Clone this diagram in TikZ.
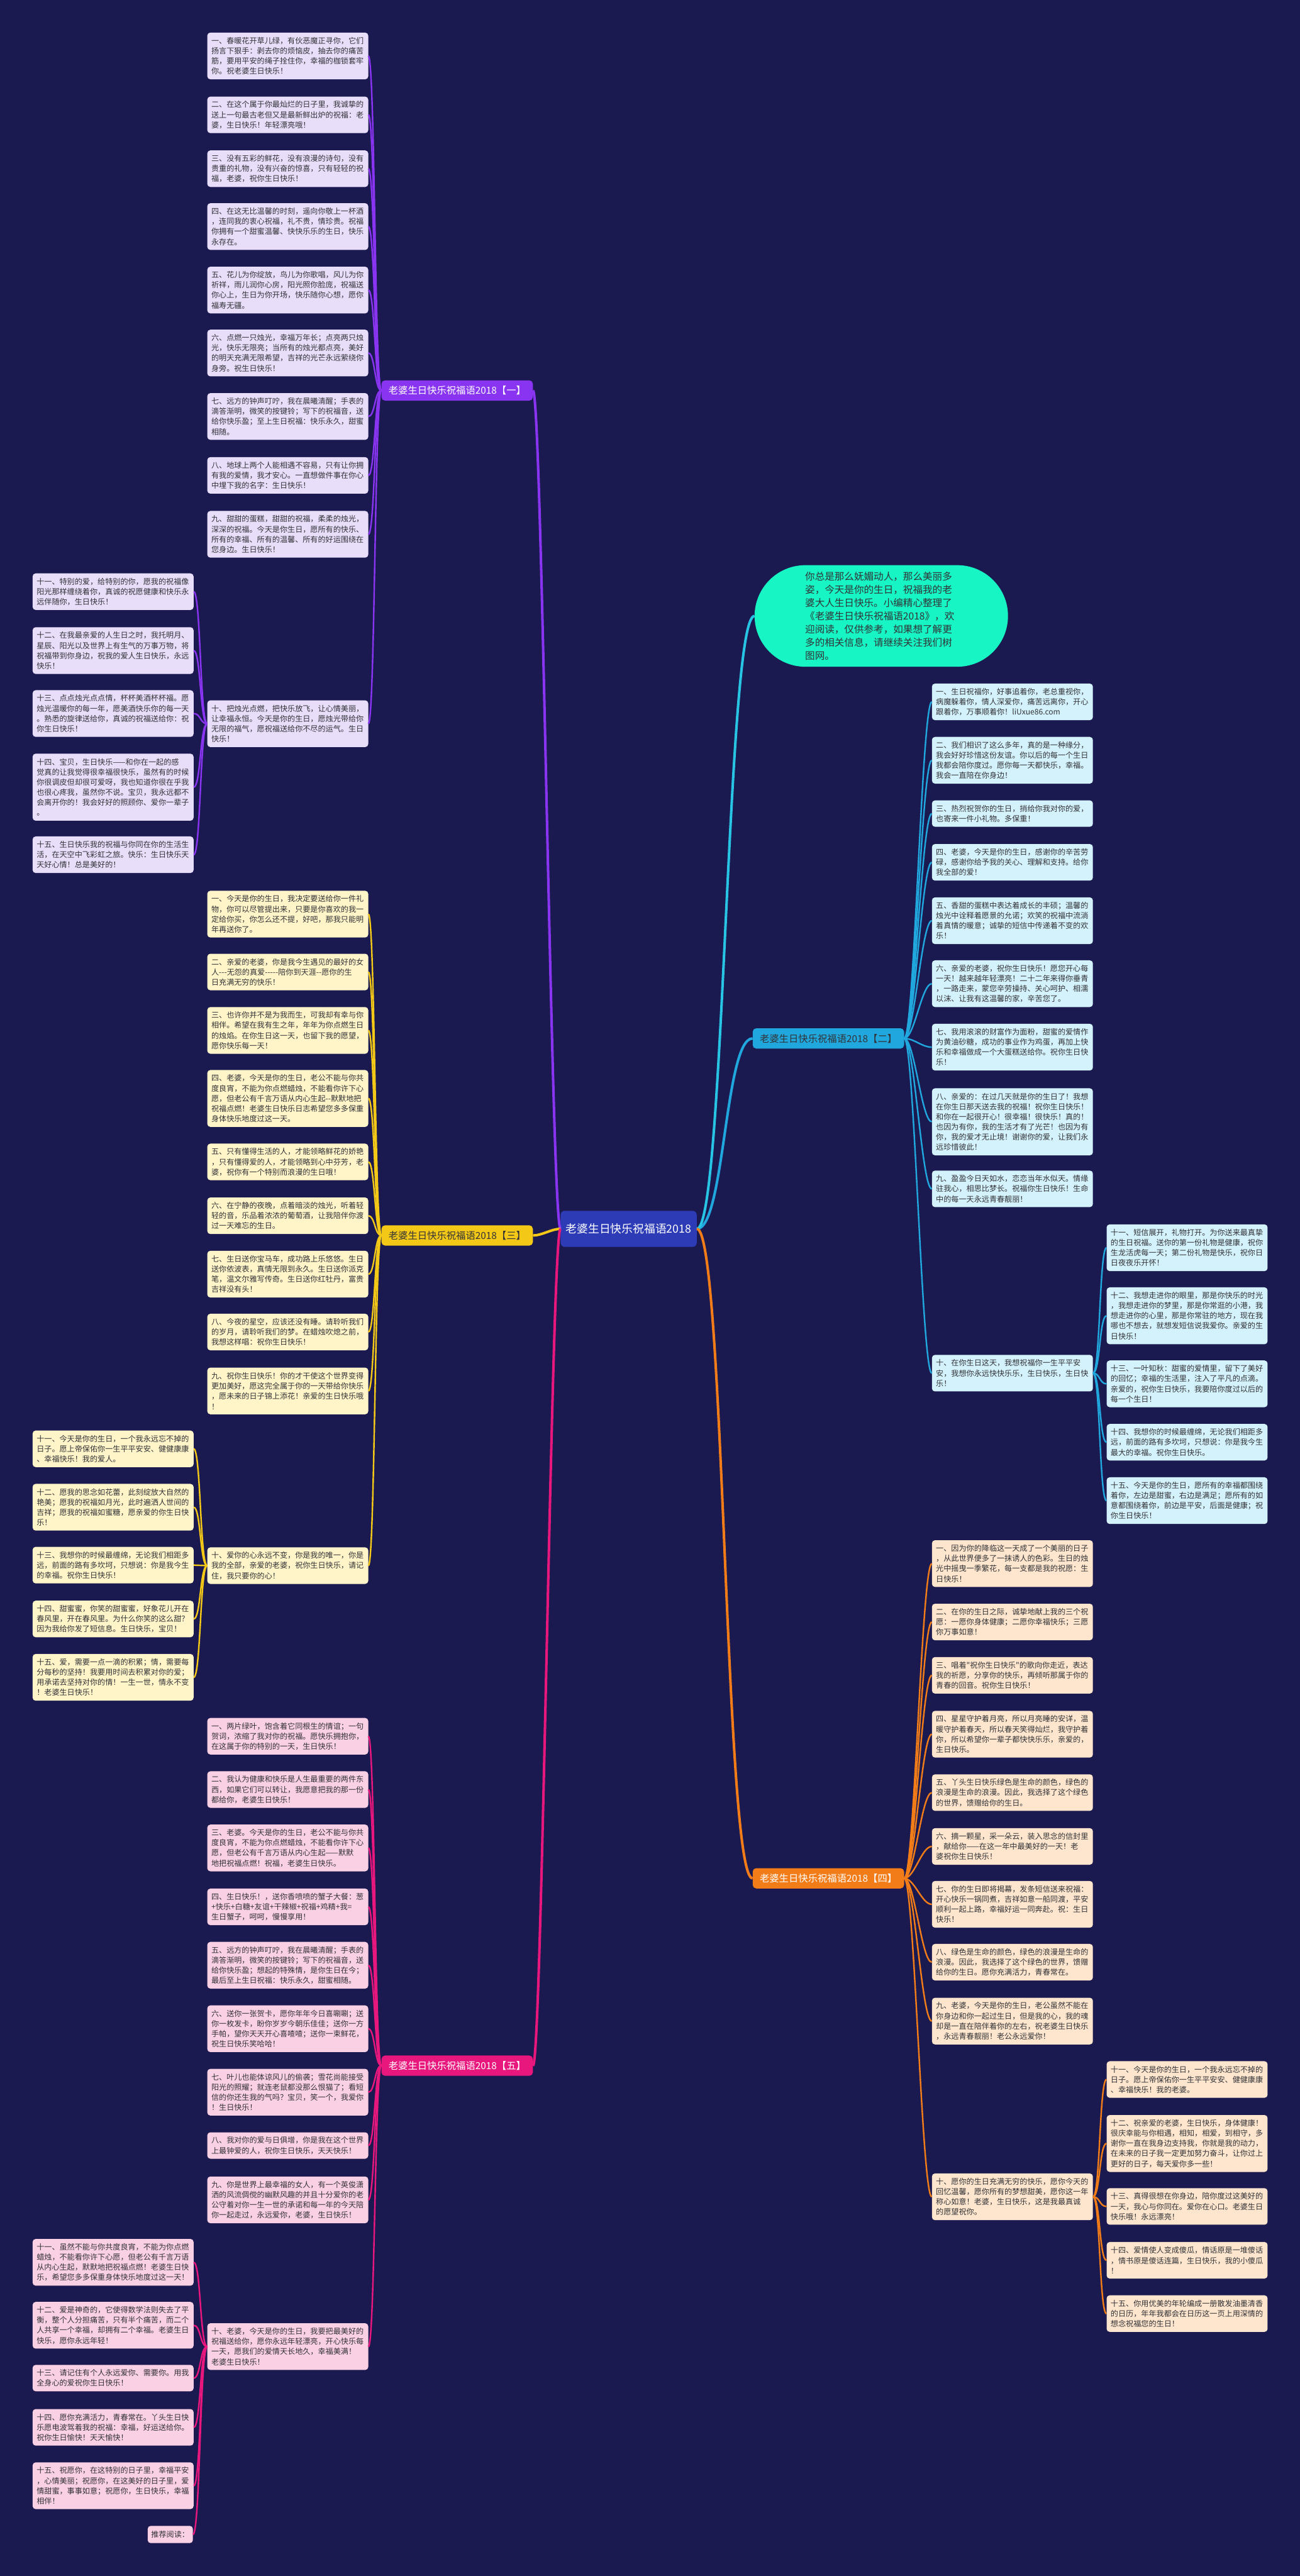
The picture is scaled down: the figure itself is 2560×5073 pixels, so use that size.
\documentclass[tikz,border=0pt]{standalone}
\usepackage{fontspec}
\setmainfont{Noto Sans CJK SC}[Ligatures=TeXOff]
\definecolor{bg}{RGB}{27,26,80}
\definecolor{txt}{RGB}{50,50,55}
\definecolor{sP}{RGB}{136,52,240}
\definecolor{fP}{RGB}{232,222,250}
\definecolor{sY}{RGB}{244,200,22}
\definecolor{fY}{RGB}{255,245,200}
\definecolor{sK}{RGB}{232,23,125}
\definecolor{fK}{RGB}{250,208,228}
\definecolor{sC}{RGB}{32,168,222}
\definecolor{fC}{RGB}{212,242,251}
\definecolor{sO}{RGB}{242,124,24}
\definecolor{fO}{RGB}{253,230,205}
\definecolor{sG}{RGB}{22,245,195}
\definecolor{sI}{RGB}{40,196,228}
\definecolor{cen}{RGB}{45,60,182}
\tikzset{
  base/.style={font=\fontsize{15}{20}\selectfont, text=txt},
  leaf/.style={base, rounded corners=6pt, text width=301pt, inner xsep=8pt, inner ysep=0pt, align=left, minimum width=317pt, anchor=north west},
  lP/.style={leaf, fill=fP}, lY/.style={leaf, fill=fY}, lK/.style={leaf, fill=fK},
  lC/.style={leaf, fill=fC}, lO/.style={leaf, fill=fO},
  cP/.style={draw=sP, line width=3pt}, cY/.style={draw=sY, line width=3pt},
  cK/.style={draw=sK, line width=3pt}, cC/.style={draw=sC, line width=3pt},
  cO/.style={draw=sO, line width=3pt},
  mainline/.style={line width=5pt},
  blabel/.style={rounded corners=7pt, font=\fontsize{19}{24}\selectfont, inner xsep=14pt, inner ysep=0pt, minimum height=40pt},
}
\newcommand\mleaf[6]{\node[#1, minimum height={20*#5+12}] (#2) at (#3,#4) {#6};}
\newcommand\conL[4]{\draw[#1] (#2.west) .. controls +(-#4,0) and +(#4,0) .. (#3.east);}
\newcommand\conR[4]{\draw[#1] (#2.east) .. controls +(#4,0) and +(-#4,0) .. (#3.west);}
\begin{document}
\begin{tikzpicture}[x=1pt,y=-1pt]
\fill[bg] (0,0) rectangle (2560,5073);
\useasboundingbox (0,0) rectangle (2560,5073);

% centre and branch labels
\node[rounded corners=8pt, fill=cen, text=white, font=\fontsize{22}{26}\selectfont, minimum width=268pt, minimum height=71pt] (c) at (1238,2420) {老婆生日快乐祝福语2018};
\node[blabel, fill=sP, text=white, anchor=west] (b1) at (751,769) {老婆生日快乐祝福语2018【一】};
\node[blabel, fill=sY, text=txt, anchor=west] (b3) at (751,2433) {老婆生日快乐祝福语2018【三】};
\node[blabel, fill=sK, text=white, anchor=west] (b5) at (751,4068) {老婆生日快乐祝福语2018【五】};
\node[blabel, fill=sC, text=txt, anchor=west] (b2) at (1482,2045) {老婆生日快乐祝福语2018【二】};
\node[blabel, fill=sO, text=white, anchor=west] (b4) at (1482,3699) {老婆生日快乐祝福语2018【四】};
\node[fill=sG, rounded corners=100pt, minimum width=499pt, minimum height=200pt, text width=300pt, align=left, text=txt, font=\fontsize{19.3}{26}\selectfont] (intro) at (1735.5,1213) {你总是那么妩媚动人，那么美丽多\\姿，今天是你的生日，祝福我的老\\婆大人生日快乐。小编精心整理了\\《老婆生日快乐祝福语2018》，欢\\迎阅读，仅供参考，如果想了解更\\多的相关信息，请继续关注我们树\\图网。};

% branch 1
\mleaf{lP}{p1}{408}{64}{4}{一、春暖花开草儿绿，有伙恶魔正寻你，它们\\扬言下狠手：剥去你的烦恼皮，抽去你的痛苦\\筋，要用平安的绳子拴住你，幸福的枷锁套牢\\你。祝老婆生日快乐！}
\mleaf{lP}{p2}{408}{190}{3}{二、在这个属于你最灿烂的日子里，我诚挚的\\送上一句最古老但又是最新鲜出炉的祝福：老\\婆，生日快乐！年轻漂亮哦！}
\mleaf{lP}{p3}{408}{296}{3}{三、没有五彩的鲜花，没有浪漫的诗句，没有\\贵重的礼物，没有兴奋的惊喜，只有轻轻的祝\\福，老婆，祝你生日快乐！}
\mleaf{lP}{p4}{408}{400}{4}{四、在这无比温馨的时刻，遥向你敬上一杯酒\\，连同我的衷心祝福，礼不贵，情珍贵。祝福\\你拥有一个甜蜜温馨、快快乐乐的生日，快乐\\永存在。}
\mleaf{lP}{p5}{408}{525}{4}{五、花儿为你绽放，鸟儿为你歌唱，风儿为你\\祈祥，雨儿润你心房，阳光照你脸庞，祝福送\\你心上，生日为你开场，快乐随你心想，愿你\\福寿无疆。}
\mleaf{lP}{p6}{408}{649}{4}{六、点燃一只烛光，幸福万年长；点亮两只烛\\光，快乐无限亮；当所有的烛光都点亮，美好\\的明天充满无限希望，吉祥的光芒永远萦绕你\\身旁。祝生日快乐！}
\mleaf{lP}{p7}{408}{774}{4}{七、远方的钟声叮咛，我在晨曦清醒；手表的\\滴答渐明，微笑的按键铃；写下的祝福音，送\\给你快乐盈；至上生日祝福：快乐永久，甜蜜\\相随。}
\mleaf{lP}{p8}{408}{900}{3}{八、地球上两个人能相遇不容易，只有让你拥\\有我的爱情，我才安心。一直想做件事在你心\\中埋下我的名字：生日快乐！}
\mleaf{lP}{p9}{408}{1006}{4}{九、甜甜的蛋糕，甜甜的祝福，柔柔的烛光，\\深深的祝福。今天是你生日，愿所有的快乐、\\所有的幸福、所有的温馨、所有的好运围绕在\\您身边。生日快乐！}
\mleaf{lP}{p10}{408}{1379}{4}{十、把烛光点燃，把快乐放飞，让心情美丽，\\让幸福永恒。今天是你的生日，愿烛光带给你\\无限的福气，愿祝福送给你不尽的运气。生日\\快乐！}
\mleaf{lP}{p11}{64}{1129}{3}{十一、特别的爱，给特别的你，愿我的祝福像\\阳光那样缠绕着你，真诚的祝愿健康和快乐永\\远伴随你，生日快乐！}
\mleaf{lP}{p12}{64}{1235}{4}{十二、在我最亲爱的人生日之时，我托明月、\\星辰、阳光以及世界上有生气的万事万物，将\\祝福带到你身边，祝我的爱人生日快乐，永远\\快乐！}
\mleaf{lP}{p13}{64}{1359}{4}{十三、点点烛光点点情，杯杯美酒杯杯福。愿\\烛光温暖你的每一年，愿美酒快乐你的每一天\\。熟悉的旋律送给你，真诚的祝福送给你：祝\\你生日快乐！}
\mleaf{lP}{p14}{64}{1484}{6}{十四、宝贝，生日快乐——和你在一起的感\\觉真的让我觉得很幸福很快乐，虽然有的时候\\你很调皮但却很可爱呀，我也知道你很在乎我\\也很心疼我，虽然你不说。宝贝，我永远都不\\会离开你的！我会好好的照顾你、爱你一辈子\\。}
\mleaf{lP}{p15}{64}{1647}{3}{十五、生日快乐我的祝福与你同在你的生活生\\活，在天空中飞彩虹之旅。快乐：生日快乐天\\天好心情！总是美好的！}

% branch 3
\mleaf{lY}{r1}{408}{1754}{4}{一、今天是你的生日，我决定要送给你一件礼\\物，你可以尽管提出来，只要是你喜欢的我一\\定给你买，你怎么还不提，好吧，那我只能明\\年再送你了。}
\mleaf{lY}{r2}{408}{1878}{3}{二、亲爱的老婆，你是我今生遇见的最好的女\\人---无怨的真爱-----陪你到天涯--愿你的生\\日充满无穷的快乐！}
\mleaf{lY}{r3}{408}{1983}{4}{三、也许你并不是为我而生，可我却有幸与你\\相伴。希望在我有生之年，年年为你点燃生日\\的烛焰。在你生日这一天，也留下我的愿望，\\愿你快乐每一天！}
\mleaf{lY}{r4}{408}{2107}{5}{四、老婆，今天是你的生日，老公不能与你共\\度良宵，不能为你点燃蜡烛，不能看你许下心\\愿，但老公有千言万语从内心生起--默默地把\\祝福点燃！老婆生日快乐日志希望您多多保重\\身体快乐地度过这一天。}
\mleaf{lY}{r5}{408}{2252}{3}{五、只有懂得生活的人，才能领略鲜花的娇艳\\，只有懂得爱的人，才能领略到心中芬芳，老\\婆，祝你有一个特别而浪漫的生日哦！}
\mleaf{lY}{r6}{408}{2358}{3}{六、在宁静的夜晚，点着暗淡的烛光，听着轻\\轻的音，乐品着浓浓的葡萄酒，让我陪伴你渡\\过一天难忘的生日。}
\mleaf{lY}{r7}{408}{2463}{4}{七、生日送你宝马车，成功路上乐悠悠。生日\\送你依波表，真情无限到永久。生日送你派克\\笔，温文尔雅写传奇。生日送你红牡丹，富贵\\吉祥没有头！}
\mleaf{lY}{r8}{408}{2587}{3}{八、今夜的星空，应该还没有睡。请聆听我们\\的岁月，请聆听我们的梦。在蜡烛吹熄之前，\\我想这样唱：祝你生日快乐！}
\mleaf{lY}{r9}{408}{2693}{4}{九、祝你生日快乐！你的才干使这个世界变得\\更加美好，愿这完全属于你的一天带给你快乐\\，愿未来的日子锦上添花！亲爱的生日快乐哦\\！}
\mleaf{lY}{r10}{408}{3047}{3}{十、爱你的心永远不变，你是我的唯一，你是\\我的全部，亲爱的老婆，祝你生日快乐，请记\\住，我只要你的心！}
\mleaf{lY}{r11}{64}{2817}{3}{十一、今天是你的生日，一个我永远忘不掉的\\日子。愿上帝保佑你一生平平安安、健健康康\\、幸福快乐！我的爱人。}
\mleaf{lY}{r12}{64}{2922}{4}{十二、愿我的思念如花蕾，此刻绽放大自然的\\艳美；愿我的祝福如月光，此时遍洒人世间的\\吉祥；愿我的祝福如蜜糖，愿亲爱的你生日快\\乐！}
\mleaf{lY}{r13}{64}{3046}{3}{十三、我想你的时候最缠绵，无论我们相距多\\远，前面的路有多坎坷，只想说：你是我今生\\的幸福。祝你生日快乐！}
\mleaf{lY}{r14}{64}{3152}{3}{十四、甜蜜蜜，你笑的甜蜜蜜，好象花儿开在\\春风里，开在春风里。为什么你笑的这么甜？\\因为我给你发了短信息。生日快乐，宝贝！}
\mleaf{lY}{r15}{64}{3257}{4}{十五、爱，需要一点一滴的积累；情，需要每\\分每秒的坚持！我要用时间去积累对你的爱；\\用承诺去坚持对你的情！一生一世，情永不变\\！老婆生日快乐！}

% branch 5
\mleaf{lK}{t1}{408}{3383}{3}{一、两片绿叶，饱含着它同根生的情谊；一句\\贺词，浓缩了我对你的祝福。愿快乐拥抱你，\\在这属于你的特别的一天，生日快乐！}
\mleaf{lK}{t2}{408}{3488}{3}{二、我认为健康和快乐是人生最重要的两件东\\西，如果它们可以转让，我愿意把我的那一份\\都给你，老婆生日快乐！}
\mleaf{lK}{t3}{408}{3593}{4}{三、老婆。今天是你的生日，老公不能与你共\\度良宵，不能为你点燃蜡烛，不能看你许下心\\愿，但老公有千言万语从内心生起——默默\\地把祝福点燃！祝福，老婆生日快乐。}
\mleaf{lK}{t4}{408}{3719}{3}{四、生日快乐！，送你香喷喷的蟹子大餐：葱\\+快乐+白糖+友谊+干辣椒+祝福+鸡精+我=\\生日蟹子，呵呵，慢慢享用！}
\mleaf{lK}{t5}{408}{3824}{4}{五、远方的钟声叮咛，我在晨曦清醒；手表的\\滴答渐明，微笑的按键铃；写下的祝福音，送\\给你快乐盈；想起的特殊情，是你生日在今；\\最后至上生日祝福：快乐永久，甜蜜相随。}
\mleaf{lK}{t6}{408}{3949}{4}{六、送你一张贺卡，愿你年年今日喜唰唰；送\\你一枚发卡，盼你岁岁今朝乐佳佳；送你一方\\手帕，望你天天开心喜喳喳；送你一束鲜花，\\祝生日快乐笑哈哈！}
\mleaf{lK}{t7}{408}{4074}{4}{七、叶儿也能体谅风儿的偷袭；雪花尚能接受\\阳光的照耀；就连老鼠都没那么恨猫了；看短\\信的你还生我的气吗？宝贝，笑一个，我爱你\\！生日快乐！}
\mleaf{lK}{t8}{408}{4199}{2}{八、我对你的爱与日俱增，你是我在这个世界\\上最钟爱的人，祝你生日快乐，天天快乐！}
\mleaf{lK}{t9}{408}{4286}{4}{九、你是世界上最幸福的女人，有一个英俊潇\\洒的风流倜傥的幽默风趣的并且十分爱你的老\\公守着对你一生一世的承诺和每一年的今天陪\\你一起走过，永远爱你，老婆，生日快乐！}
\mleaf{lK}{t10}{408}{4575}{4}{十、老婆，今天是你的生日，我要把最美好的\\祝福送给你，愿你永远年轻漂亮，开心快乐每\\一天，愿我们的爱情天长地久，幸福美满！\\老婆生日快乐！}
\mleaf{lK}{t11}{64}{4409}{4}{十一、虽然不能与你共度良宵，不能为你点燃\\蜡烛，不能看你许下心愿，但老公有千言万语\\从内心生起，默默地把祝福点燃！老婆生日快\\乐，希望您多多保重身体快乐地度过这一天！}
\mleaf{lK}{t12}{64}{4533}{4}{十二、爱是神奇的，它使得数学法则失去了平\\衡，整个人分担痛苦，只有半个痛苦，而二个\\人共享一个幸福，却拥有二个幸福。老婆生日\\快乐，愿你永远年轻！}
\mleaf{lK}{t13}{64}{4657}{2}{十三、请记住有个人永远爱你、需要你。用我\\全身心的爱祝你生日快乐！}
\mleaf{lK}{t14}{64}{4744}{3}{十四、愿你充满活力，青春常在。丫头生日快\\乐愿电波驾着我的祝福：幸福，好运送给你。\\祝你生日愉快！天天愉快！}
\mleaf{lK}{t15}{64}{4849}{4}{十五、祝愿你，在这特别的日子里，幸福平安\\，心情美丽；祝愿你，在这美好的日子里，爱\\情甜蜜，事事如意；祝愿你，生日快乐，幸福\\相伴！}
\node[base, fill=fK, rounded corners=6pt, anchor=north east, minimum width=89pt, minimum height=34pt, inner sep=0pt] (t16) at (380,4974) {推荐阅读：};

% branch 2
\mleaf{lC}{q1}{1835}{1346}{3}{一、生日祝福你，好事追着你，老总重视你，\\病魔躲着你，情人深爱你，痛苦远离你，开心\\跟着你，万事顺着你！liUxue86.com}
\mleaf{lC}{q2}{1835}{1451}{4}{二、我们相识了这么多年，真的是一种缘分，\\我会好好珍惜这份友谊。你以后的每一个生日\\我都会陪你度过。愿你每一天都快乐，幸福。\\我会一直陪在你身边！}
\mleaf{lC}{q3}{1835}{1576}{2}{三、热烈祝贺你的生日，捎给你我对你的爱，\\也寄来一件小礼物。多保重！}
\mleaf{lC}{q4}{1835}{1662}{3}{四、老婆，今天是你的生日，感谢你的辛苦劳\\碌，感谢你给予我的关心、理解和支持。给你\\我全部的爱！}
\mleaf{lC}{q5}{1835}{1767}{4}{五、香甜的蛋糕中表达着成长的丰硕；温馨的\\烛光中诠释着愿景的允诺；欢笑的祝福中流淌\\着真情的暖意；诚挚的短信中传递着不变的欢\\乐！}
\mleaf{lC}{q6}{1835}{1891}{4}{六、亲爱的老婆，祝你生日快乐！愿您开心每\\一天！越来越年轻漂亮！二十二年来得你垂青\\，一路走来，蒙您辛劳操持、关心呵护、相濡\\以沫、让我有这温馨的家，辛苦您了。}
\mleaf{lC}{q7}{1835}{2016}{4}{七、我用滚滚的财富作为面粉，甜蜜的爱情作\\为黄油砂糖，成功的事业作为鸡蛋，再加上快\\乐和幸福做成一个大蛋糕送给你。祝你生日快\\乐！}
\mleaf{lC}{q8}{1835}{2143}{6}{八、亲爱的：在过几天就是你的生日了！我想\\在你生日那天送去我的祝福！祝你生日快乐！\\和你在一起很开心！很幸福！很快乐！真的！\\也因为有你，我的生活才有了光芒！也因为有\\你，我的爱才无止境！谢谢你的爱，让我们永\\远珍惜彼此！}
\mleaf{lC}{q9}{1835}{2305}{3}{九、盈盈今日天如水，恋恋当年水似天。情缘\\驻我心，相思比梦长。祝福你生日快乐！生命\\中的每一天永远青春靓丽！}
\mleaf{lC}{q10}{1835}{2668}{3}{十、在你生日这天，我想祝福你一生平平安\\安，我想你永远快快乐乐，生日快乐，生日快\\乐！}
\mleaf{lC}{q11}{2179}{2411}{4}{十一、短信展开，礼物打开。为你送来最真挚\\的生日祝福。送你的第一份礼物是健康，祝你\\生龙活虎每一天；第二份礼物是快乐，祝你日\\日夜夜乐开怀！}
\mleaf{lC}{q12}{2179}{2535}{5}{十二、我想走进你的眼里，那是你快乐的时光\\，我想走进你的梦里，那是你常逛的小港，我\\想走进你的心里，那是你常驻的地方，现在我\\哪也不想去，就想发短信说我爱你。亲爱的生\\日快乐！}
\mleaf{lC}{q13}{2179}{2679}{4}{十三、一叶知秋：甜蜜的爱情里，留下了美好\\的回忆；幸福的生活里，注入了平凡的点滴。\\亲爱的，祝你生日快乐，我要陪你度过以后的\\每一个生日！}
\mleaf{lC}{q14}{2179}{2804}{3}{十四、我想你的时候最缠绵，无论我们相距多\\远，前面的路有多坎坷，只想说：你是我今生\\最大的幸福。祝你生日快乐。}
\mleaf{lC}{q15}{2179}{2909}{4}{十五、今天是你的生日，愿所有的幸福都围绕\\着你，左边是甜蜜，右边是满足；愿所有的如\\意都围绕着你，前边是平安，后面是健康；祝\\你生日快乐！}

% branch 4
\mleaf{lO}{s1}{1835}{3033}{4}{一、因为你的降临这一天成了一个美丽的日子\\，从此世界便多了一抹诱人的色彩。生日的烛\\光中摇曳一季繁花，每一支都是我的祝愿：生\\日快乐！}
\mleaf{lO}{s2}{1835}{3158}{3}{二、在你的生日之际，诚挚地献上我的三个祝\\愿：一愿你身体健康；二愿你幸福快乐；三愿\\你万事如意！}
\mleaf{lO}{s3}{1835}{3263}{3}{三、唱着"祝你生日快乐"的歌向你走近，表达\\我的祈愿，分享你的快乐，再倾听那属于你的\\青春的回音。祝你生日快乐！}
\mleaf{lO}{s4}{1835}{3369}{4}{四、星星守护着月亮，所以月亮睡的安详，温\\暖守护着春天，所以春天笑得灿烂，我守护着\\你，所以希望你一辈子都快快乐乐，亲爱的，\\生日快乐。}
\mleaf{lO}{s5}{1835}{3494}{3}{五、丫头生日快乐绿色是生命的颜色，绿色的\\浪漫是生命的浪漫。因此，我选择了这个绿色\\的世界，馈赠给你的生日。}
\mleaf{lO}{s6}{1835}{3600}{3}{六、摘一颗星，采一朵云，装入思念的信封里\\，献给你——在这一年中最美好的一天！老\\婆祝你生日快乐！}
\mleaf{lO}{s7}{1835}{3704}{4}{七、你的生日即将揭幕，发条短信送来祝福：\\开心快乐一锅同煮，吉祥如意一船同渡，平安\\顺利一起上路，幸福好运一同奔赴。祝：生日\\快乐！}
\mleaf{lO}{s8}{1835}{3828}{3}{八、绿色是生命的颜色，绿色的浪漫是生命的\\浪漫。因此，我选择了这个绿色的世界，馈赠\\给你的生日。愿你充满活力，青春常在。}
\mleaf{lO}{s9}{1835}{3934}{4}{九、老婆，今天是你的生日，老公虽然不能在\\你身边和你一起过生日，但是我的心，我的魂\\却是一直在陪伴着你的左右，祝老婆生日快乐\\，永远青春靓丽！老公永远爱你！}
\mleaf{lO}{s10}{1835}{4280}{4}{十、愿你的生日充满无穷的快乐，愿你今天的\\回忆温馨，愿你所有的梦想甜美，愿你这一年\\称心如意！老婆，生日快乐，这是我最真诚\\的愿望祝你。}
\mleaf{lO}{s11}{2179}{4059}{3}{十一、今天是你的生日，一个我永远忘不掉的\\日子。愿上帝保佑你一生平平安安、健健康康\\、幸福快乐！我的老婆。}
\mleaf{lO}{s12}{2179}{4165}{5}{十二、祝亲爱的老婆，生日快乐，身体健康！\\很庆幸能与你相遇，相知，相爱，到相守，多\\谢你一直在我身边支持我，你就是我的动力，\\在未来的日子我一定更加努力奋斗，让你过上\\更好的日子，每天爱你多一些！}
\mleaf{lO}{s13}{2179}{4309}{3}{十三、真得很想在你身边，陪你度过这美好的\\一天，我心与你同在。爱你在心口。老婆生日\\快乐哦！永远漂亮！}
\mleaf{lO}{s14}{2179}{4415}{3}{十四、爱情使人变成傻瓜，情话原是一堆傻话\\，情书原是傻话连篇，生日快乐，我的小傻瓜\\！}
\mleaf{lO}{s15}{2179}{4520}{3}{十五、你用优美的年轮编成一册散发油墨清香\\的日历，年年我都会在日历这一页上用深情的\\想念祝福您的生日！}

% connectors
\draw[mainline, draw=sP] (c.west) .. controls +(-18,0) and +(18,0) .. (b1.east);
\draw[mainline, draw=sY] (c.west) .. controls +(-18,0) and +(18,0) .. (b3.east);
\draw[mainline, draw=sK] (c.west) .. controls +(-18,0) and +(18,0) .. (b5.east);
\draw[mainline, draw=sC] (c.east) .. controls +(55,0) and +(-55,0) .. (b2.west);
\draw[mainline, draw=sI] (c.east) .. controls +(55,0) and +(-55,0) .. (intro.west);
\draw[mainline, draw=sO] (c.east) .. controls +(55,0) and +(-55,0) .. (b4.west);
\foreach \i in {1,...,10} {\conL{cP}{b1}{p\i}{13}}
\foreach \i in {11,...,15} {\conL{cP}{p10}{p\i}{14}}
\foreach \i in {1,...,10} {\conL{cY}{b3}{r\i}{13}}
\foreach \i in {11,...,15} {\conL{cY}{r10}{r\i}{14}}
\foreach \i in {1,...,10} {\conL{cK}{b5}{t\i}{13}}
\foreach \i in {11,...,16} {\conL{cK}{t10}{t\i}{14}}
\foreach \i in {1,...,10} {\conR{cC}{b2}{q\i}{20}}
\foreach \i in {11,...,15} {\conR{cC}{q10}{q\i}{14}}
\foreach \i in {1,...,10} {\conR{cO}{b4}{s\i}{20}}
\foreach \i in {11,...,15} {\conR{cO}{s10}{s\i}{14}}
\end{tikzpicture}
\end{document}
